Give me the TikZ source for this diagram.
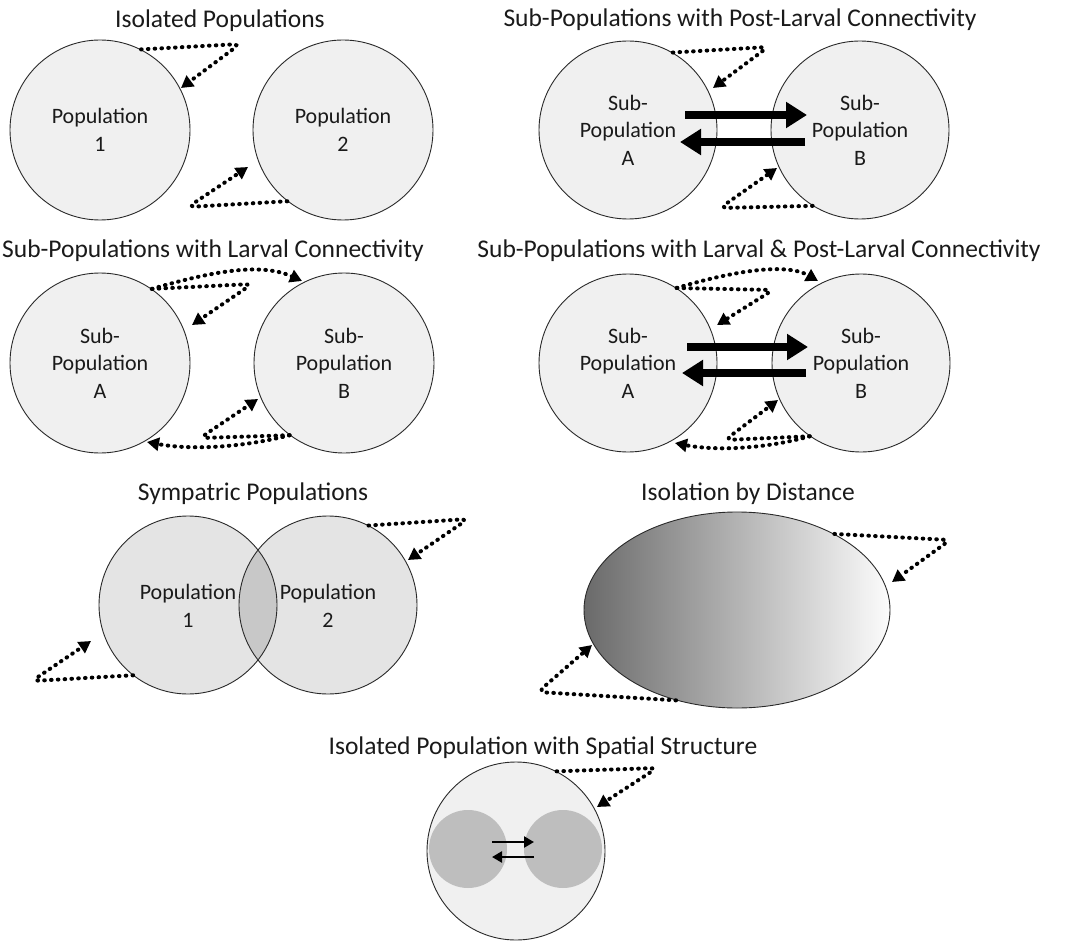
\documentclass[tikz,border=0pt]{standalone}
\usepackage{fontspec}
\setmainfont{Carlito}
\usetikzlibrary{arrows.meta,shapes.geometric}
\definecolor{popfill}{HTML}{F0F0F0}
\definecolor{symfill}{HTML}{E4E4E4}
\definecolor{overlapfill}{HTML}{C8C8C8}
\definecolor{innerfill}{HTML}{BEBEBE}
\definecolor{inkcol}{HTML}{1A1A1A}
\definecolor{edgecol}{HTML}{2A2A2A}
\definecolor{gradleft}{HTML}{6A6A6A}
\definecolor{gradright}{HTML}{FCFCFC}
\begin{document}
\begin{tikzpicture}[x=1pt,y=-1pt,
  pop/.style={circle, draw=edgecol, line width=0.9pt, fill=popfill, minimum size=#1, inner sep=0pt,
    align=center, font=\fontsize{22}{27.5}\selectfont, text=inkcol},
  pop/.default=180pt,
  ttl/.style={anchor=base, font=\fontsize{25.5}{30}\selectfont, text=inkcol, inner sep=0pt},
  lbl/.style={align=center, font=\fontsize{22}{27.5}\selectfont, text=inkcol, inner sep=0pt},
  dotloop/.style={line width=4pt, dash pattern=on 0.6pt off 6.2pt, line cap=round, rounded corners=7pt,
    -{Triangle[length=12pt,width=13pt]}},
  dotarc/.style={line width=4pt, dash pattern=on 0.6pt off 6.2pt, line cap=round,
    -{Triangle[length=12pt,width=13pt]}},
  bigarrow/.style={line width=8pt, -{Triangle[length=21pt,width=25pt]}},
  smallarrow/.style={line width=2.8pt, -{Triangle[length=10pt,width=11pt]}},
]
\useasboundingbox (0,0) rectangle (1068,941);
\fill[white] (0,0) rectangle (1068,941);

% ---------- Panel 1: Isolated Populations ----------
\node[ttl] (t1) at (220,28) {Isolated Populations};
\node[pop] (p1) at (100,130) {Population\\1};
\node[pop] (p2) at (343,130) {Population\\2};
\coordinate (p1c) at (240,44);
\coordinate (p1t) at (181,88);
\draw[dotloop] (p1.63) -- (p1c) -- (p1t);
\coordinate (p2c) at (188,207);
\coordinate (p2t) at (248,167);
\draw[dotloop] (p2.232) -- (p2c) -- (p2t);

% ---------- Panel 2: Post-Larval ----------
\node[ttl] (t2) at (740,27) {Sub-Populations with Post-Larval Connectivity};
\node[pop=178pt] (qa) at (628,130) {Sub-\\Population\\A};
\node[pop=178pt] (qb) at (860,130) {Sub-\\Population\\B};
\coordinate (qac) at (768,47);
\coordinate (qat) at (713,88);
\draw[dotloop] (qa.60) -- (qac) -- (qat);
\coordinate (qbc) at (720,208);
\coordinate (qbt) at (777,168);
\draw[dotloop] (qb.238) -- (qbc) -- (qbt);
\coordinate (qr1) at (685,115);
\coordinate (qr2) at (807,115);
\coordinate (ql1) at (805,142);
\coordinate (ql2) at (680,142);
\draw[bigarrow] (qr1) -- (qr2);
\draw[bigarrow] (ql1) -- (ql2);

% ---------- Panel 3: Larval ----------
\node[ttl] (t3) at (213,258) {Sub-Populations with Larval Connectivity};
\node[pop] (ra) at (100,363) {Sub-\\Population\\A};
\node[pop] (rb) at (344,363) {Sub-\\Population\\B};
\coordinate (rac) at (252,284);
\coordinate (rat) at (192,325);
\draw[dotloop] (ra.55) -- (rac) -- (rat);
\coordinate (rax) at (302,281);
\draw[dotarc] (ra.55) .. controls (210,272) and (260,262) .. (rax);
\coordinate (rbc) at (200,438);
\coordinate (rbt) at (258,399);
\draw[dotloop] (rb.233) -- (rbc) -- (rbt);
\coordinate (rbx) at (147,442);
\draw[dotarc] (rb.233) .. controls (240,448) and (190,450) .. (rbx);

% ---------- Panel 4: Larval & Post-Larval ----------
\node[ttl] (t4) at (759,258) {Sub-Populations with Larval \& Post-Larval Connectivity};
\node[pop=178pt] (sa) at (628,363) {Sub-\\Population\\A};
\node[pop=178pt] (sb) at (861,363) {Sub-\\Population\\B};
\coordinate (sac) at (773,290);
\coordinate (sat) at (717,325);
\draw[dotloop] (sa.57) -- (sac) -- (sat);
\coordinate (sax) at (818,281);
\draw[dotarc] (sa.57) .. controls (730,272) and (785,262) .. (sax);
\coordinate (sbc) at (725,440);
\coordinate (sbt) at (778,400);
\draw[dotloop] (sb.235) -- (sbc) -- (sbt);
\coordinate (sbx) at (675,443);
\draw[dotarc] (sb.235) .. controls (765,449) and (715,451) .. (sbx);
\coordinate (sr1) at (687,347);
\coordinate (sr2) at (808,347);
\coordinate (sl1) at (806,373);
\coordinate (sl2) at (682,373);
\draw[bigarrow] (sr1) -- (sr2);
\draw[bigarrow] (sl1) -- (sl2);

% ---------- Panel 5: Sympatric ----------
\node[ttl] (t5) at (253,500) {Sympatric Populations};
\node[circle, minimum size=178pt, inner sep=0pt, fill=symfill] (u1) at (188,605) {};
\node[circle, minimum size=178pt, inner sep=0pt, fill=symfill] (u2) at (328,605) {};
\begin{scope}
  \clip (188,605) circle (89pt);
  \fill[overlapfill] (328,605) circle (89pt);
\end{scope}
\draw[edgecol, line width=0.9pt] (u1.center) circle (89pt);
\draw[edgecol, line width=0.9pt] (u2.center) circle (89pt);
\node[lbl] (u1l) at (188,606) {Population\\1};
\node[lbl] (u2l) at (328,606) {Population\\2};
\coordinate (u2c) at (468,519);
\coordinate (u2t) at (408,560);
\draw[dotloop] (u2.63) -- (u2c) -- (u2t);
\coordinate (u1c) at (32,681);
\coordinate (u1t) at (91,641);
\draw[dotloop] (u1.232) -- (u1c) -- (u1t);

% ---------- Panel 6: Isolation by Distance ----------
\node[ttl] (t6) at (748,500) {Isolation by Distance};
\node[ellipse, draw=edgecol, line width=0.9pt, minimum width=306pt, minimum height=196pt, inner sep=0pt,
  left color=gradleft, right color=gradright] (e) at (737,610) {};
\coordinate (ec) at (950,540);
\coordinate (et) at (892,582);
\draw[dotloop] (e.38) -- (ec) -- (et);
\coordinate (ec2) at (538,692);
\coordinate (et2) at (592,645);
\draw[dotloop] (e.236) -- (ec2) -- (et2);

% ---------- Panel 7: Spatial Structure ----------
\node[ttl] (t7) at (543,754) {Isolated Population with Spatial Structure};
\node[pop=178pt] (w) at (516,851) {};
\node[circle, fill=innerfill, minimum size=78pt, inner sep=0pt] (wl) at (468,849) {};
\node[circle, fill=innerfill, minimum size=78pt, inner sep=0pt] (wr) at (563,849) {};
\coordinate (wr1) at (492,842);
\coordinate (wr2) at (534,842);
\coordinate (wl1) at (534,857);
\coordinate (wl2) at (492,857);
\draw[smallarrow] (wr1) -- (wr2);
\draw[smallarrow] (wl1) -- (wl2);
\coordinate (wc) at (657,768);
\coordinate (wt) at (597,807);
\draw[dotloop] (w.63) -- (wc) -- (wt);
\end{tikzpicture}
\end{document}
